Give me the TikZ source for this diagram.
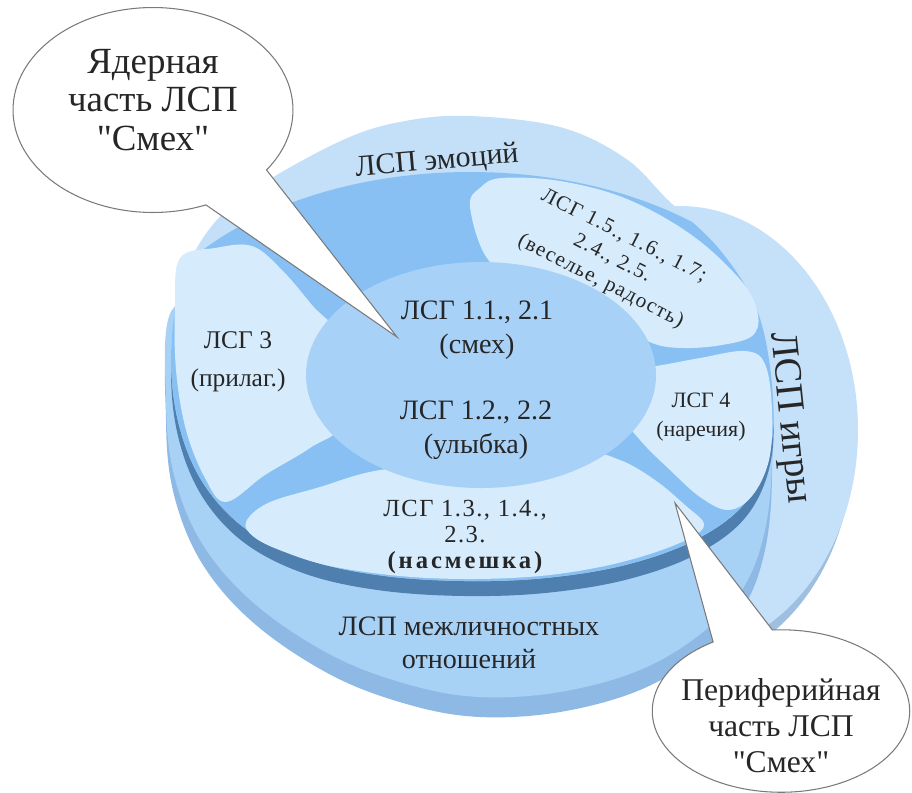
\documentclass[tikz,border=0pt]{standalone}
\usepackage{fontspec}
\setmainfont{Liberation Serif}[Ligatures=TeXOff]
\newfontfamily\spacedserif[LetterSpace=6]{Liberation Serif}
\newfontfamily\widebold[LetterSpace=12]{Liberation Serif Bold}
\usepackage{xcolor}
\usetikzlibrary{shapes.geometric,shapes.callouts,positioning}

\definecolor{emoRing}{HTML}{C4E0F9}
\definecolor{emoInner}{HTML}{88C0F3}
\definecolor{petalFill}{HTML}{D6EBFB}
\definecolor{coreFill}{HTML}{A8D1F7}
\definecolor{bandDark}{HTML}{4E7FAF}
\definecolor{lowBody}{HTML}{A8D1F6}
\definecolor{lowRim}{HTML}{8DB9E4}
\definecolor{gameTop}{HTML}{C5E0F9}
\definecolor{gameRim}{HTML}{9FBFE0}
\definecolor{bubbleLine}{HTML}{7A7A7A}

% outlines of the discs (pixel grid, y downwards)
\newcommand\emoOutline{plot[smooth cycle, tension=0.6] coordinates {
  (470,116) (560,127) (625,158) (668,200) (720,250) (757,310) (772,385)
  (770,450) (745,503) (695,540) (625,565) (545,578) (465,581) (385,576)
  (315,562) (258,537) (218,503) (190,458) (174,400) (172,335) (184,275)
  (215,222) (262,184) (345,139) (405,121)}}
\newcommand\lowOutline{plot[smooth cycle, tension=0.6] coordinates {
  (172,330) (166,420) (174,495) (203,565) (256,625) (333,676) (410,705)
  (480,717) (560,712) (640,690) (703,652) (745,605) (766,545) (772,470)
  (766,400) (700,330) (600,290) (470,280) (330,290) (230,320)}}

\begin{document}
\begin{tikzpicture}[
    x=0.02cm, y=-0.02cm,
    every node/.style={text=black!85, align=center, inner sep=0pt},
    field/.style={font=\fontsize{17}{20}\selectfont},
    core/.style={font=\fontsize{16}{19.5}\selectfont},
    petal/.style={fill=petalFill},
    bubble/.style={ellipse callout, draw=bubbleLine, fill=white, line width=0.6pt}
]
\useasboundingbox (0,0) rectangle (912,792);

% Right disc
\fill[gameRim] (675,445) ellipse [x radius=178, y radius=224];
\fill[gameTop] (680,430) ellipse [x radius=178, y radius=224];

% Lower disc
\fill[lowRim] \lowOutline;
\fill[lowBody, yshift=0.4cm] \lowOutline;

% Upper disc
\fill[bandDark, yshift=-0.3cm] \emoOutline;
\fill[emoRing] \emoOutline;
\begin{scope}
    \clip \emoOutline;
    \fill[emoInner] (470,392) ellipse [x radius=350, y radius=220];
\end{scope}

% Petals
\fill[petal] plot[smooth cycle, tension=0.6] coordinates {
  (180,258) (215,248) (252,246) (282,270) (312,305) (345,345) (345,420)
  (310,448) (265,475) (226,502) (205,478) (186,430) (176,370) (175,305)};
\fill[petal] plot[smooth cycle, tension=0.6] coordinates {
  (470,207) (481,187) (502,178) (560,181) (627,199) (693,236) (743,283)
  (758,315) (752,336) (722,345) (684,348) (652,343) (610,320) (540,285) (490,262)};
\fill[petal] plot[smooth cycle, tension=0.6] coordinates {
  (656,366) (700,358) (745,351) (765,364) (772,410) (769,460) (752,496)
  (728,510) (700,497) (670,470) (640,440) (610,400) (620,370)};
\fill[petal] plot[smooth cycle, tension=0.6] coordinates {
  (246,522) (268,503) (320,487) (380,470) (480,460) (580,452) (620,460)
  (655,480) (685,505) (704,524) (690,538) (650,554) (600,567) (540,576)
  (470,579) (400,576) (330,566) (282,551) (254,537)};

% Core
\fill[coreFill] (481,375) ellipse [x radius=175, y radius=113];

% Field labels
\node[field, rotate=5] (emoLabel) at (437,162) {ЛСП эмоций};
\node[font=\fontsize{22}{24}\selectfont, rotate=-84] (gameLabel) at (789,418) {ЛСП игры};
\node[font=\fontsize{16}{18.8}\selectfont] (socialLabel) at (469,643) {ЛСП межличностных\\отношений};

% Group labels
\node[core] (coreLaugh) at (477,330) {ЛСГ 1.1., 2.1\\(смех)};
\node[core] (coreSmile) at (476,430) {ЛСГ 1.2., 2.2\\(улыбка)};
\node[font=\fontsize{14.5}{21.5}\selectfont] (adjLabel) at (238,362) {ЛСГ 3\\(прилаг.)};
\node[font=\fontsize{12.5}{17}\selectfont] (advLabel) at (701,417) {ЛСГ 4\\(наречия)};
\node[font=\spacedserif\fontsize{12}{14.5}\selectfont, rotate=-27] (joyLabel) at (612,259)
    {ЛСГ 1.5., 1.6., 1.7;\\2.4., 2.5.\\(веселье, радость)};
\node[font=\spacedserif\fontsize{14}{15}\selectfont] (mockLabel) at (465,537)
    {ЛСГ 1.3., 1.4.,\\2.3.\\{\widebold(насмешка)}};

% Callouts
\coordinate (coreTip) at (397,337);
\coordinate (periTip) at (675,503);
\node[bubble, minimum width=5.6cm, minimum height=4.1cm, callout absolute pointer={(coreTip)},
    callout pointer arc=32] (coreBubble) at (153,110) {};
\node[font=\fontsize{21}{22}\selectfont] (coreText) at ([yshift=0.2cm]coreBubble.center)
    {Ядерная\\часть ЛСП\\"Смех"};
\node[bubble, minimum width=5.15cm, minimum height=3.25cm, callout absolute pointer={(periTip)},
    callout pointer arc=28] (periBubble) at (781,711) {};
\node[font=\fontsize{18}{20.5}\selectfont] (periText) at ([yshift=-0.3cm]periBubble.center)
    {Периферийная\\часть ЛСП\\"Смех"};

\end{tikzpicture}
\end{document}
